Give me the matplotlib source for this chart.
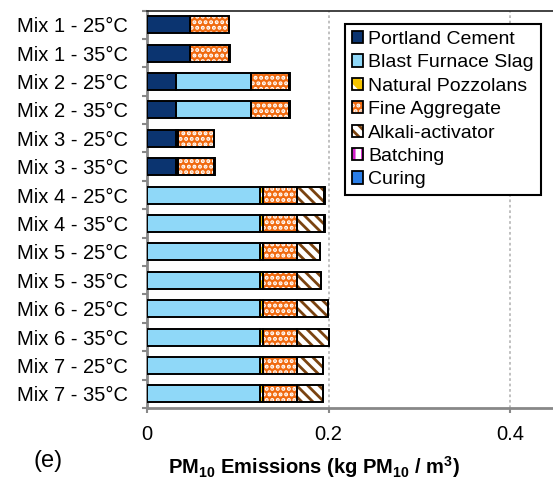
import numpy as np
import matplotlib
matplotlib.use('Agg')
import matplotlib.pyplot as plt
from matplotlib.patches import Patch
from matplotlib.legend_handler import HandlerTuple

plt.rcParams['font.family'] = ['Liberation Sans', 'DejaVu Sans']
plt.rcParams['mathtext.fontset'] = 'custom'
plt.rcParams['mathtext.rm'] = 'Liberation Sans'
plt.rcParams['mathtext.bf'] = 'Liberation Sans:bold'
plt.rcParams['hatch.linewidth'] = 2.0

# Data (kg PM10 / m3)
categories = ['Mix 1 - 25°C', 'Mix 1 - 35°C', 'Mix 2 - 25°C', 'Mix 2 - 35°C',
              'Mix 3 - 25°C', 'Mix 3 - 35°C', 'Mix 4 - 25°C', 'Mix 4 - 35°C',
              'Mix 5 - 25°C', 'Mix 5 - 35°C', 'Mix 6 - 25°C', 'Mix 6 - 35°C',
              'Mix 7 - 25°C', 'Mix 7 - 35°C']
portland = [0.0474, 0.0474, 0.0316, 0.0316, 0.0316, 0.0316, 0, 0, 0, 0, 0, 0, 0, 0]
slag = [0, 0, 0.0827, 0.0827, 0, 0, 0.1245, 0.1245, 0.1245, 0.1245, 0.1245, 0.1245, 0.1245, 0.1245]
pozzolans = [0, 0, 0, 0, 0.0029, 0.0029, 0.003, 0.003, 0.003, 0.003, 0.003, 0.003, 0.003, 0.003]
fine_agg = [0.0426, 0.0426, 0.0425, 0.0425, 0.0393, 0.0393, 0.0375, 0.0375, 0.0375, 0.0375, 0.0375, 0.0375, 0.0375, 0.0375]
activator = [0, 0, 0, 0, 0, 0, 0.0304, 0.0304, 0.0257, 0.0264, 0.0342, 0.0353, 0.0287, 0.029]
batching = [0.0003] * 14
curing = [0, 0.0007, 0, 0.001, 0, 0.0007, 0, 0, 0, 0, 0, 0.0005, 0, 0]

series = [
    ('Portland Cement', portland, '#0b3470', None, None),
    ('Blast Furnace Slag', slag, '#8fd8f8', None, None),
    ('Natural Pozzolans', pozzolans, '#f5c400', '\\\\', 'white'),
    ('Fine Aggregate', fine_agg, '#f06a10', '...', 'white'),
    ('Alkali-activator', activator, 'white', '\\\\\\', '#7a4310'),
    ('Batching', batching, 'white', '||', '#d020c8'),
    ('Curing', curing, '#2a7ee8', None, None),
]

fig = plt.figure(figsize=(5.53, 4.82), dpi=100)
ax = fig.add_axes([147 / 553, 1 - 408 / 482, 1 - 147 / 553, (408 - 10.5) / 482])

y = np.arange(len(categories))
left = np.zeros(len(categories))
handles = []
for name, vals, fc, hatch, hc in series:
    vals = np.array(vals)
    m = vals > 0
    if hatch:
        ax.barh(y[m], vals[m], left=left[m], height=0.6, color=fc,
                edgecolor=hc, hatch=hatch, linewidth=0, zorder=3)
    else:
        ax.barh(y[m], vals[m], left=left[m], height=0.6, color=fc,
                linewidth=0, zorder=3)
    ax.barh(y[m], vals[m], left=left[m], height=0.6, fill=False,
            edgecolor='black', linewidth=1.4, zorder=4)
    left += vals
    fill = Patch(facecolor=fc, edgecolor=hc if hatch else fc, hatch=hatch, linewidth=0)
    edge = Patch(fill=False, edgecolor='black', linewidth=1.3)
    handles.append((fill, edge))

ax.set_ylim(13.5, -0.5)
ax.set_xlim(0, (553 - 147) / 907.5)
ax.set_yticks(y)
ax.set_yticklabels(categories, fontsize=14.5)
ax.set_yticks(np.arange(-0.5, 14, 1), minor=True)
ax.tick_params(axis='y', which='major', length=0, pad=13.5)
ax.tick_params(axis='y', which='minor', length=3.6, width=1.5, color='#888888', direction='out')
ax.set_xticks([0, 0.2, 0.4])
ax.set_xticklabels(['0', '0.2', '0.4'], fontsize=14.5)
ax.tick_params(axis='x', length=3.6, width=1.5, color='#888888', pad=9)

ax.xaxis.grid(True, linestyle=(0, (1.5, 1.5)), color='#bbbbbb', linewidth=1.3, zorder=0)
ax.set_axisbelow(True)

ax.spines['right'].set_visible(False)
ax.spines['top'].set_color('#222222')
ax.spines['top'].set_linewidth(1.2)
ax.spines['left'].set_color('#888888')
ax.spines['left'].set_linewidth(2)
ax.spines['bottom'].set_color('#888888')
ax.spines['bottom'].set_linewidth(2)

leg = ax.legend(handles=handles, labels=[s[0] for s in series],
                handler_map={tuple: HandlerTuple(ndivide=1)},
                loc='upper left', bbox_to_anchor=(345 / 553, 1 - 24 / 482),
                bbox_transform=fig.transFigure, borderaxespad=0, fontsize=14,
                handlelength=0.6, handleheight=0.6, handletextpad=0.25,
                labelspacing=0.33, borderpad=0.35, fancybox=False, framealpha=1)
leg.get_frame().set_edgecolor('black')
leg.get_frame().set_linewidth(1.5)

fig.text(314 / 553, 1 - 467 / 482,
         r'PM$_{\mathbf{10}}$ Emissions (kg PM$_{\mathbf{10}}$ / m$^{\mathbf{3}}$)',
         ha='center', va='center', fontsize=14.5, fontweight='bold')
fig.text(48 / 553, 1 - 461 / 482, '(e)', ha='center', va='center', fontsize=17)

fig.savefig('out.png', dpi=100)
